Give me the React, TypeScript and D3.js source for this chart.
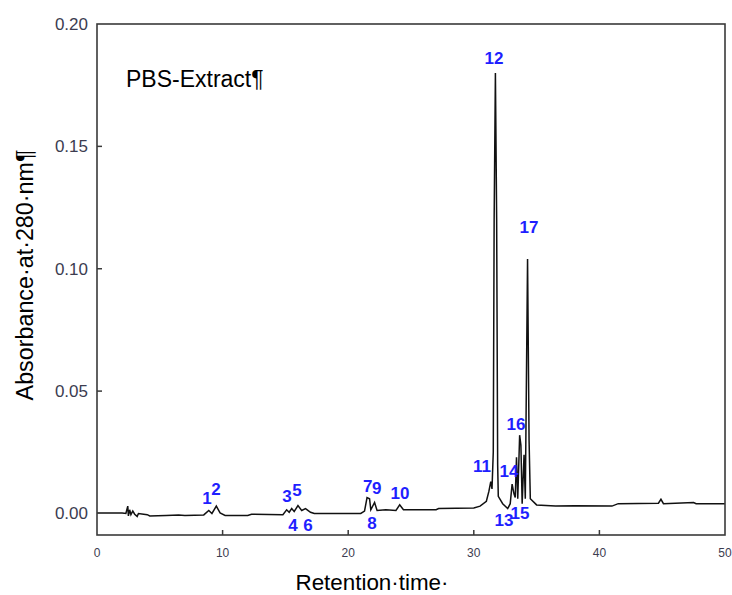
import React from "react";
import * as d3 from "d3";

// Chromatogram trace: retention time (min), absorbance at 280 nm
const times: number[] = [
  0.0, 2.0, 2.3, 2.45, 2.5, 2.6, 2.7, 2.85, 3.0, 3.2, 3.3, 4.0, 4.2, 5.5, 6.5, 7.0, 8.5,
  8.9, 9.15, 9.5, 9.8, 10.2, 12.0, 12.3, 14.8, 15.1, 15.3, 15.5, 15.7, 16.0, 16.3, 16.6,
  17.0, 17.3, 21.0, 21.3, 21.5, 21.7, 21.8, 22.1, 22.3, 23.0, 23.8, 24.1, 24.4, 27.0,
  27.2, 30.0, 30.5, 31.0, 31.2, 31.35, 31.45, 31.55, 31.62, 31.72, 31.82, 31.9, 31.95,
  32.3, 32.7, 32.9, 33.05, 33.2, 33.3, 33.4, 33.5, 33.65, 33.75, 33.85, 34.0, 34.1,
  34.28, 34.4, 34.5, 35.0, 36.5, 38.0, 41.0, 41.5, 44.7, 44.9, 45.1, 47.5, 47.7, 50.0,
];
const absorbance: number[] = [
  0.0002, 0.0002, 0.0, 0.003, -0.001, 0.0015, -0.0005, 0.001, -0.0003, -0.0012, 0.0,
  -0.0005, -0.001, -0.0008, -0.0006, -0.0008, -0.0006, 0.0012, 0.0, 0.003, 0.0002,
  -0.0008, -0.0008, -0.0003, -0.0005, 0.0015, 0.0005, 0.002, 0.0008, 0.0032, 0.0012,
  0.002, 0.0005, 0.0, 0.0, 0.001, 0.0065, 0.006, 0.0015, 0.0045, 0.0012, 0.0015,
  0.0012, 0.0035, 0.0015, 0.0015, 0.002, 0.0022, 0.003, 0.005, 0.009, 0.013, 0.01,
  0.025, 0.12, 0.18, 0.12, 0.02, 0.007, 0.004, 0.002, 0.004, 0.012, 0.008, 0.0065,
  0.023, 0.006, 0.032, 0.028, 0.004, 0.024, 0.006, 0.104, 0.03, 0.006, 0.0035, 0.003,
  0.0032, 0.003, 0.004, 0.0042, 0.0058, 0.004, 0.0045, 0.004, 0.004,
];

// Peak labels: text, retention time, absorbance at the label baseline
const peakNames: string[] = ["1", "2", "3", "4", "5", "6", "7", "8", "9", "10", "11", "12", "13", "14", "15", "16", "17"];
const peakTimes: number[] = [8.76, 9.47, 15.13, 15.6, 15.92, 16.8, 21.55, 21.9, 22.28, 24.12, 30.65, 31.61, 32.4, 32.8, 33.68, 33.36, 34.39];
const peakLabelY: number[] = [0.0039, 0.0076, 0.0047, -0.0072, 0.0071, -0.0072, 0.0088, -0.0063, 0.008, 0.0059, 0.017, 0.1837, -0.0051, 0.0149, -0.0023, 0.0341, 0.1146];

const xTicks: number[] = [0, 10, 20, 30, 40, 50];
const yTicks: number[] = [0.0, 0.05, 0.1, 0.15, 0.2];

const W = 732;
const H = 595;
const left = 97;
const right = 725;
const top = 24;
const bottom = 535;

export default function App() {
  const x = d3.scaleLinear().domain([0, 50]).range([left, right]);
  const y = d3.scaleLinear().domain([-0.0088, 0.2]).range([bottom, top]);
  const pts: [number, number][] = times.map((t, i) => [t, absorbance[i]]);
  const line = d3
    .line<[number, number]>()
    .x((d) => x(d[0]))
    .y((d) => y(d[1]));
  const font = "'Liberation Sans', Arial, sans-serif";
  const axisColor = "#3a3a3a";
  const tickColor = "#3c3c50";
  return (
    <svg
      width={W}
      height={H}
      style={{ position: "absolute", left: 0, top: 0, background: "#fff" }}
      fontFamily={font}
    >
      <rect x={0} y={0} width={W} height={H} fill="#fff" />
      <path d={line(pts) || ""} fill="none" stroke="#111" strokeWidth={1.5} strokeLinejoin="miter" />
      <rect x={left} y={top} width={right - left} height={bottom - top} fill="none" stroke={axisColor} strokeWidth={1.6} />
      {xTicks.map((t) => (
        <g key={"x" + t}>
          {t > 0 && t < 50 && (
            <line x1={x(t)} x2={x(t)} y1={bottom} y2={bottom - 5} stroke={axisColor} strokeWidth={1.5} />
          )}
          <text x={x(t)} y={556.5} textAnchor="middle" fontSize={12} fill={tickColor}>
            {t}
          </text>
        </g>
      ))}
      {yTicks.map((v) => (
        <g key={"y" + v}>
          {v > 0 && v < 0.2 && (
            <line x1={left} x2={left + 5} y1={y(v)} y2={y(v)} stroke={axisColor} strokeWidth={1.5} />
          )}
          <text x={88} y={y(v) + 6} textAnchor="end" fontSize={17} fill={tickColor}>
            {v.toFixed(2)}
          </text>
        </g>
      ))}
      <text x={126} y={87} fontSize={23} fill="#000">
        PBS-Extract¶
      </text>
      <text x={372} y={590} textAnchor="middle" fontSize={22.4} fill="#000">
        Retention·time·
      </text>
      <text
        transform={`translate(33, 275) rotate(-90)`}
        textAnchor="middle"
        fontSize={23.3}
        fill="#000"
      >
        Absorbance·at·280·nm¶
      </text>
      {peakNames.map((n, i) => (
        <text
          key={"p" + n}
          x={x(peakTimes[i])}
          y={y(peakLabelY[i])}
          textAnchor="middle"
          fontSize={17}
          fontWeight="bold"
          fill="#1f1fff"
        >
          {n}
        </text>
      ))}
    </svg>
  );
}
